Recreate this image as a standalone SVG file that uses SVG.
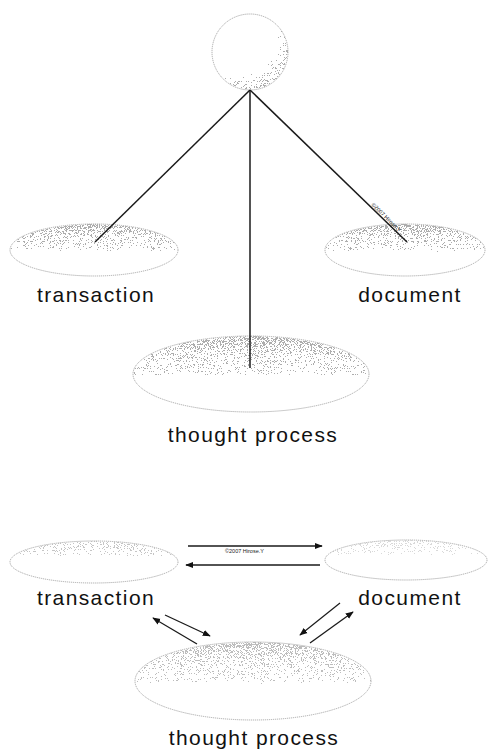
<svg xmlns="http://www.w3.org/2000/svg" width="491" height="751" viewBox="0 0 491 751">
  <style>
    .outline { fill: #ffffff; stroke: #a0a0a0; stroke-width: 0.9; stroke-dasharray: 1.2 0.8; }
    .shade { fill: url(#topShade); filter: url(#stipple); }
    .shadeLight { fill: url(#topShadeLight); filter: url(#stipple); }
    .label { font-family: "Liberation Sans", Arial, sans-serif; font-size: 21px; letter-spacing: 1.4px; fill: #111; text-anchor: middle; }
    .tiny { font-family: "Liberation Sans", Arial, sans-serif; font-size: 5.5px; fill: #222; }
    .spoke { stroke: #1a1a1a; stroke-width: 1.5; fill: none; }
    .flow { stroke: #1a1a1a; stroke-width: 1.3; fill: none; marker-end: url(#head); }
  </style>
  <defs>
    <marker id="head" viewBox="0 0 10 10" refX="9" refY="5" markerWidth="8" markerHeight="8" markerUnits="userSpaceOnUse" orient="auto">
      <path d="M0,1 L10,5 L0,9 Z" fill="#111"/>
    </marker>
    <!-- density of the grain: strongest near the top rim, fading out -->
    <linearGradient id="topShade" x1="0" y1="0" x2="0" y2="1">
      <stop offset="0" stop-color="#000" stop-opacity="0.72"/>
      <stop offset="0.2" stop-color="#000" stop-opacity="0.61"/>
      <stop offset="0.5" stop-color="#000" stop-opacity="0.53"/>
      <stop offset="0.6" stop-color="#000" stop-opacity="0"/>
    </linearGradient>
    <linearGradient id="topShadeLight" x1="0" y1="0" x2="0" y2="1">
      <stop offset="0" stop-color="#000" stop-opacity="0.62"/>
      <stop offset="0.35" stop-color="#000" stop-opacity="0.53"/>
      <stop offset="0.45" stop-color="#000" stop-opacity="0"/>
    </linearGradient>
    <radialGradient id="sphereShade" cx="0.35" cy="0.3" r="0.85">
      <stop offset="0" stop-color="#000" stop-opacity="0"/>
      <stop offset="0.5" stop-color="#000" stop-opacity="0.3"/>
      <stop offset="0.75" stop-color="#000" stop-opacity="0.58"/>
      <stop offset="1" stop-color="#000" stop-opacity="0.72"/>
    </radialGradient>
    <!-- turns a smooth alpha ramp into scattered grey dots -->
    <filter id="stipple" x="0" y="0" width="100%" height="100%" color-interpolation-filters="sRGB">
      <feTurbulence type="fractalNoise" baseFrequency="1.3" numOctaves="2" seed="7" result="noise"/>
      <feColorMatrix in="noise" type="matrix" values="0 0 0 0 0  0 0 0 0 0  0 0 0 0 0  1 0 0 0 0" result="grain"/>
      <feComposite in="SourceAlpha" in2="grain" operator="arithmetic" k1="0" k2="1" k3="1" k4="-0.7" result="sum"/>
      <feComponentTransfer in="sum" result="dots">
        <feFuncA type="discrete" tableValues="0 1"/>
      </feComponentTransfer>
      <feFlood flood-color="#adadad"/>
      <feComposite in2="dots" operator="in"/>
    </filter>
  </defs>

  <!-- upper figure: hub above three nodes -->
  <g id="hub">
    <circle class="outline" cx="250" cy="52" r="38"/>
    <circle cx="250" cy="52" r="38" fill="url(#sphereShade)" filter="url(#stipple)"/>
  </g>

  <g id="transaction-top">
    <ellipse class="outline" cx="94" cy="250" rx="84" ry="26"/>
    <ellipse class="shade" cx="94" cy="250" rx="84" ry="26"/>
    <text class="label" x="96" y="302">transaction</text>
  </g>

  <g id="document-top">
    <ellipse class="outline" cx="405" cy="250" rx="80" ry="26"/>
    <ellipse class="shade" cx="405" cy="250" rx="80" ry="26"/>
    <text class="label" x="410" y="302">document</text>
  </g>

  <g id="thought-top">
    <ellipse class="outline" cx="251" cy="374" rx="118" ry="38"/>
    <ellipse class="shade" cx="251" cy="374" rx="118" ry="38"/>
    <text class="label" x="253" y="442">thought process</text>
  </g>

  <!-- spokes, drawn over the node shading -->
  <g id="connectors-top">
    <line class="spoke" x1="250" y1="90" x2="95" y2="242"/>
    <line class="spoke" x1="250" y1="90" x2="250" y2="368"/>
    <line class="spoke" x1="250" y1="90" x2="407" y2="242"/>
    <text class="tiny" transform="translate(371,205) rotate(44)">©2007 Hirose.Y</text>
  </g>

  <!-- lower figure: three nodes exchanging in both directions -->
  <g id="transaction-bottom">
    <ellipse class="outline" cx="94" cy="562" rx="84" ry="21"/>
    <ellipse class="shadeLight" cx="94" cy="562" rx="84" ry="21" opacity="0.7"/>
    <text class="label" x="96" y="605">transaction</text>
  </g>

  <g id="document-bottom">
    <ellipse class="outline" cx="406" cy="560" rx="81" ry="20"/>
    <ellipse class="shadeLight" cx="406" cy="560" rx="81" ry="20" opacity="0.45"/>
    <text class="label" x="410" y="605">document</text>
  </g>

  <g id="thought-bottom">
    <ellipse class="outline" cx="253" cy="681" rx="118" ry="39"/>
    <ellipse class="shade" cx="253" cy="681" rx="118" ry="39" opacity="0.8"/>
    <text class="label" x="254" y="745">thought process</text>
  </g>

  <g id="connectors-bottom">
    <line class="flow" x1="188" y1="546" x2="322" y2="546"/>
    <line class="flow" x1="320" y1="565" x2="186" y2="565"/>
    <text class="tiny" x="225" y="553">©2007 Hirose.Y</text>
    <line class="flow" x1="197" y1="644" x2="153" y2="618"/>
    <line class="flow" x1="165" y1="615" x2="210" y2="636"/>
    <line class="flow" x1="340" y1="603" x2="300" y2="635"/>
    <line class="flow" x1="310" y1="643" x2="353" y2="612"/>
  </g>
</svg>
